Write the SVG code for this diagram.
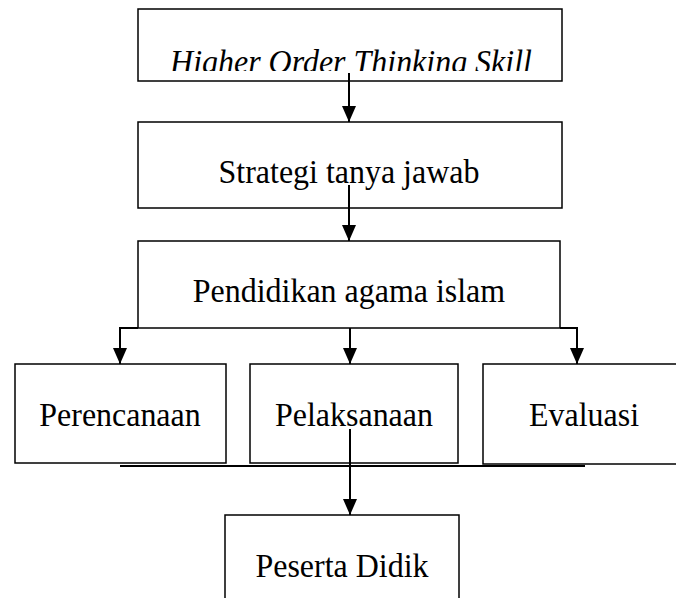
<svg xmlns="http://www.w3.org/2000/svg" width="676" height="598" viewBox="0 0 676 598">
<style>
.box{fill:#fff;stroke:#000;stroke-width:1.5}
.t{font-family:"Liberation Serif","Times New Roman",serif;font-size:34px;fill:#000;text-anchor:middle}
.c{fill:none;stroke:#000;stroke-width:2}
</style>
<defs>
<marker id="a" markerWidth="16" markerHeight="14" refX="16" refY="7" orient="auto" markerUnits="userSpaceOnUse" viewBox="0 0 16 14">
<path d="M0,0 L16,7 L0,14 Z" fill="#000"/>
</marker>
<clipPath id="clip1"><rect x="138" y="9" width="424" height="62"/></clipPath>
</defs>
<rect width="676" height="598" fill="#fff"/>
<g id="n1">
<rect class="box" x="138" y="9" width="424" height="72"/>
<g clip-path="url(#clip1)">
<text class="t" transform="translate(351,73) scale(0.94,1)" font-style="italic">Higher Order Thinking Skill</text>
</g>
</g>
<g id="n2">
<rect class="box" x="138" y="122" width="424" height="86"/>
<text class="t" transform="translate(349,183) scale(0.94,1)">Strategi tanya jawab</text>
</g>
<g id="n3">
<rect class="box" x="138" y="241" width="422" height="87"/>
<text class="t" transform="translate(349,302) scale(0.94,1)">Pendidikan agama islam</text>
</g>
<g id="n4">
<rect class="box" x="15" y="364" width="211" height="99"/>
<text class="t" transform="translate(120,426) scale(0.94,1)">Perencanaan</text>
</g>
<g id="n5">
<rect class="box" x="250" y="364" width="208" height="99"/>
<text class="t" transform="translate(354,426) scale(0.94,1)">Pelaksanaan</text>
</g>
<g id="n6">
<rect class="box" x="483" y="364" width="210" height="100"/>
<text class="t" transform="translate(584,426) scale(0.94,1)">Evaluasi</text>
</g>
<g id="n7">
<rect class="box" x="225" y="515" width="234" height="100"/>
<text class="t" transform="translate(342,577) scale(0.94,1)">Peserta Didik</text>
</g>
<g id="connectors">
<line class="c" x1="120" y1="466" x2="585" y2="466"/>
<path class="c" d="M349,73 V122" marker-end="url(#a)"/>
<path class="c" d="M349,185 V241" marker-end="url(#a)"/>
<path class="c" d="M138,328 H120 V364" marker-end="url(#a)"/>
<path class="c" d="M350,328 V364" marker-end="url(#a)"/>
<path class="c" d="M560,328 H577 V364" marker-end="url(#a)"/>
<path class="c" d="M350,429 V515" marker-end="url(#a)"/>
</g>
</svg>
